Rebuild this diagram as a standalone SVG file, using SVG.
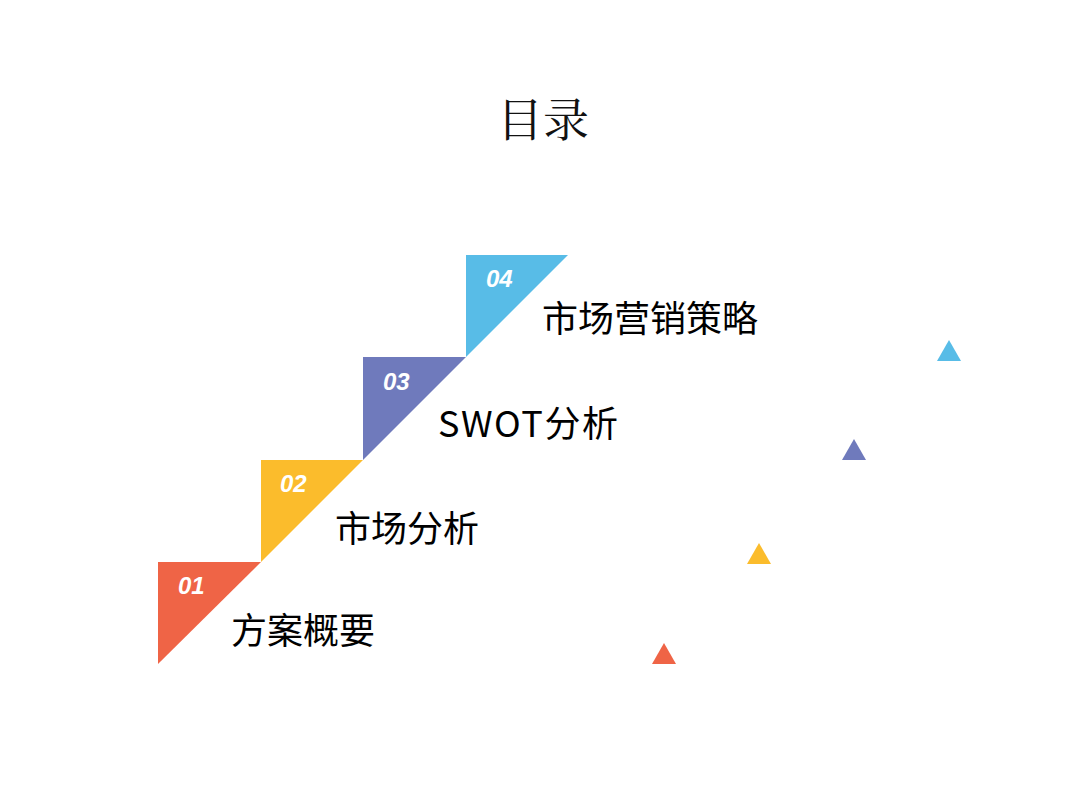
<svg xmlns="http://www.w3.org/2000/svg" width="1080" height="810" viewBox="0 0 1080 810">
<style>
.num{font-family:"Liberation Sans",sans-serif;font-weight:bold;font-style:italic;font-size:24px;fill:#fff}
.lbl{font-family:"Noto Sans CJK SC","Liberation Sans",sans-serif;font-size:36px;fill:#000}
</style>
<rect width="1080" height="810" fill="#fff"/>
<text x="543" y="136" text-anchor="middle" font-family="Noto Serif CJK SC,Noto Sans CJK SC,serif" font-size="46" fill="#111">目录</text>
<g id="n1"><polygon points="158,562 261,562 158,664" fill="#EF6446"/><text class="num" x="178" y="594">01</text><text class="lbl" x="231" y="644">方案概要</text></g>
<g id="n2"><polygon points="261,460 363,460 261,562" fill="#FBBC2C"/><text class="num" x="280" y="492">02</text><text class="lbl" x="335" y="542">市场分析</text></g>
<g id="n3"><polygon points="363,357 466,357 363,460" fill="#6F7ABC"/><text class="num" x="383" y="390">03</text><text class="lbl" x="438" y="437" textLength="180">SWOT分析</text></g>
<g id="n4"><polygon points="466,255 568,255 466,357" fill="#58BCE7"/><text class="num" x="486" y="287">04</text><text class="lbl" x="542" y="332">市场营销策略</text></g>
<g id="connectors"></g>
<polygon points="949,340 961,361 937,361" fill="#58BCE7"/>
<polygon points="854,439 866,460 842,460" fill="#6F7ABC"/>
<polygon points="759,543 771,564 747,564" fill="#FBBC2C"/>
<polygon points="664,643 676,664 652,664" fill="#EF6446"/>
</svg>
